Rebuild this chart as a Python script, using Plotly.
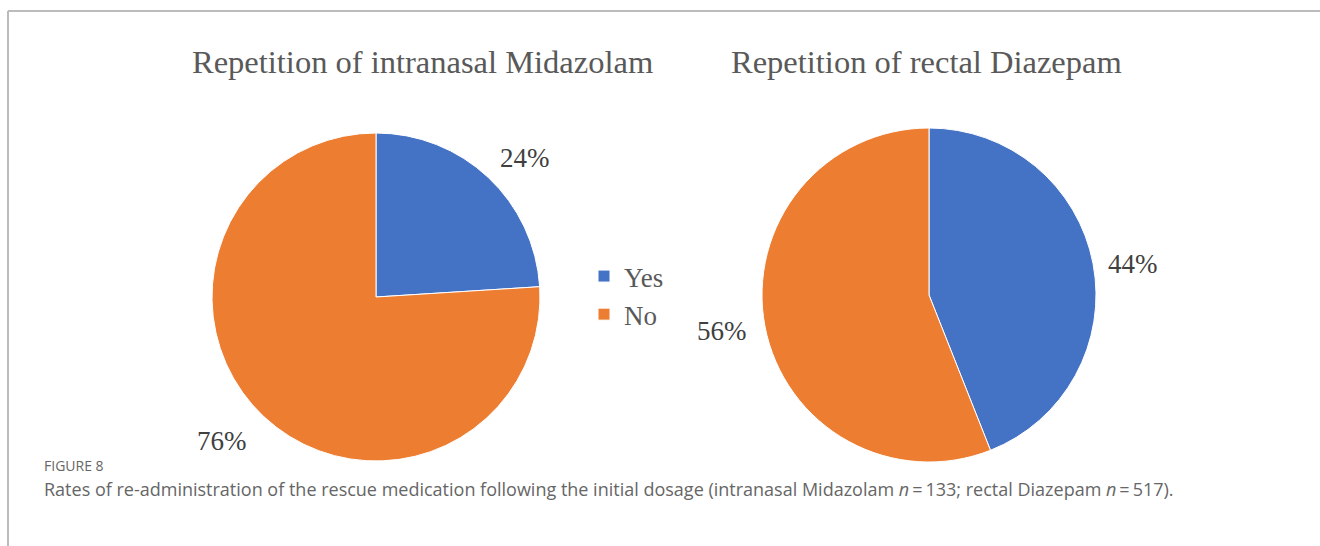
import plotly.graph_objects as go

categories = ["Yes", "No"]
midazolam_pct = [24, 76]
diazepam_pct = [44, 56]
colors = ["#4472C4", "#ED7D31"]
titles = ["Repetition of intranasal Midazolam", "Repetition of rectal Diazepam"]
caption_label = "FIGURE 8"
caption_text = ("Rates of re-administration of the rescue medication following the initial dosage "
                "(intranasal Midazolam <i>n</i>\u2009=\u2009133; rectal Diazepam <i>n</i>\u2009=\u2009517).")

W, H = 1320, 546

def px(x):
    return x / W

def py(y):
    return 1 - y / H

def dom(cx, cy, r):
    return dict(x=[px(cx - r), px(cx + r)], y=[py(cy + r), py(cy - r)])

fig = go.Figure()
fig.add_trace(go.Pie(labels=categories, values=midazolam_pct, sort=False, direction="clockwise",
                     rotation=0, marker=dict(colors=colors, line=dict(color="white", width=1)),
                     textinfo="none", hoverinfo="label+percent", domain=dom(376, 297, 164),
                     showlegend=True))
fig.add_trace(go.Pie(labels=categories, values=diazepam_pct, sort=False, direction="clockwise",
                     rotation=0, marker=dict(colors=colors, line=dict(color="white", width=1)),
                     textinfo="none", hoverinfo="label+percent", domain=dom(929, 295, 167),
                     showlegend=False))

serif = "Liberation Serif, Times New Roman, serif"
sans = "Open Sans, sans-serif"
ann = []
# titles
ann.append(dict(text=titles[0], x=px(422), y=py(62), xref="paper", yref="paper",
                xanchor="center", yanchor="middle",
                showarrow=False, font=dict(family=serif, size=32.5, color="#595959")))
ann.append(dict(text=titles[1], x=px(926), y=py(62), xref="paper", yref="paper",
                xanchor="center", yanchor="middle",
                showarrow=False, font=dict(family=serif, size=32.5, color="#595959")))
# percentage labels
label_pos = [(525, 158, midazolam_pct[0]), (222, 441, midazolam_pct[1]),
             (1133, 264, diazepam_pct[0]), (722, 331, diazepam_pct[1])]
for x, y, v in label_pos:
    ann.append(dict(text=f"{v}%", x=px(x), y=py(y), xref="paper", yref="paper",
                    xanchor="center", yanchor="middle",
                    showarrow=False, font=dict(family=serif, size=27, color="#404040")))
# caption
ann.append(dict(text=caption_label, x=px(42), y=py(465), xref="paper", yref="paper",
                xanchor="left", yanchor="middle", showarrow=False,
                font=dict(family=sans, size=14, color="#666666")))
ann.append(dict(text=caption_text, x=px(42), y=py(489), xref="paper", yref="paper",
                xanchor="left", yanchor="middle", showarrow=False,
                font=dict(family=sans, size=18, color="#666666")))

fig.update_layout(
    width=W, height=H, margin=dict(l=0, r=0, t=0, b=0),
    paper_bgcolor="white", plot_bgcolor="white",
    annotations=ann,
    legend=dict(x=px(584), y=py(252), xanchor="left", yanchor="top",
                font=dict(family=serif, size=27, color="#595959"),
                bgcolor="rgba(0,0,0,0)"),
    shapes=[
        dict(type="line", xref="paper", yref="paper", x0=px(8), x1=1, y0=py(11), y1=py(11),
             line=dict(color="#BBBBBB", width=2)),
        dict(type="line", xref="paper", yref="paper", x0=px(8), x1=px(8), y0=0, y1=py(11),
             line=dict(color="#BBBBBB", width=2)),
    ],
)

fig.write_html("out.html", config={"displayModeBar": False},
               post_script="document.body.style.margin='0';document.body.style.overflow='hidden';")
